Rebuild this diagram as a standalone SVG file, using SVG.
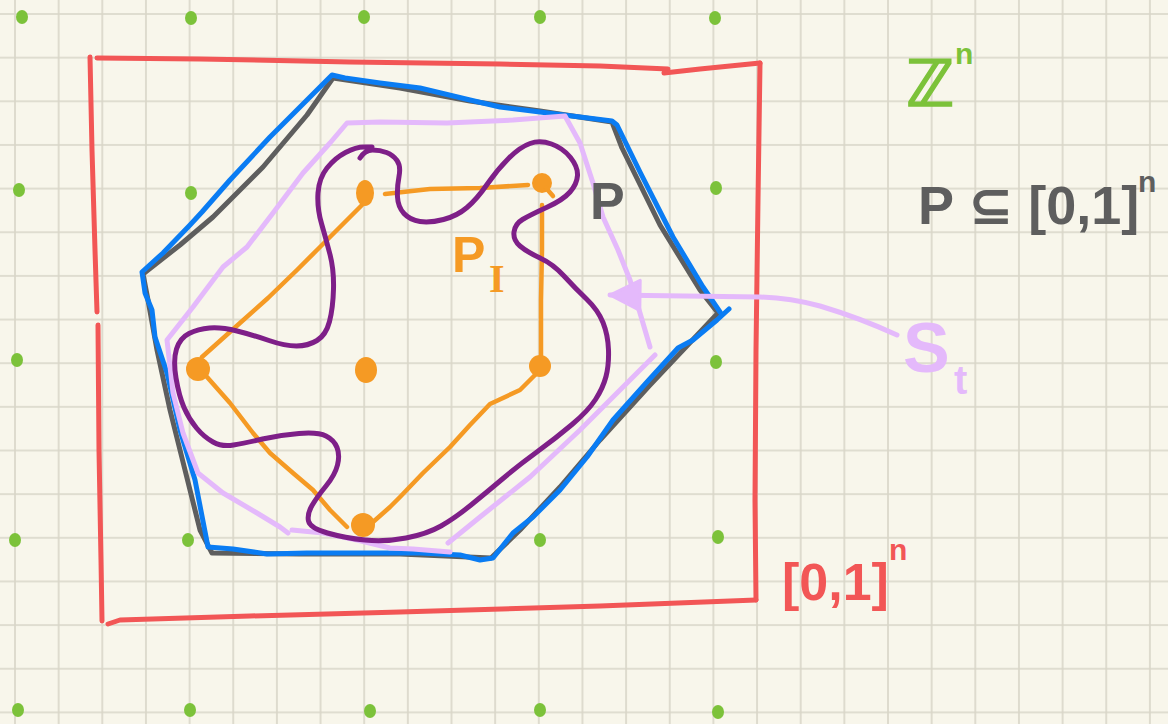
<svg xmlns="http://www.w3.org/2000/svg" width="1168" height="724" viewBox="0 0 1168 724">
<style>
.ln{fill:none;stroke-linecap:round;stroke-linejoin:round}
.red{stroke:#f25656;stroke-width:5}
.gray{stroke:#5e5e5e;stroke-width:5}
.blue{stroke:#0a7cf3;stroke-width:5}
.lilac{stroke:#e4b9fb;stroke-width:5}
.orange{stroke:#f59a24;stroke-width:4.5}
.purple{stroke:#7e1f88;stroke-width:5}
.dot{fill:#7cc23a}
.od{fill:#f59a24}
.t{font-family:"Liberation Sans","DejaVu Sans",sans-serif;font-weight:bold}
</style>
<defs>
<pattern id="gridp" x="-6.825" y="-7.825" width="43.65" height="43.65" patternUnits="userSpaceOnUse">
<path d="M21.825,0 V43.65 M0,21.825 H43.65" stroke="#d8d5c8" stroke-width="1.6" fill="none"/>
</pattern>
<marker id="ah" viewBox="0 0 34 34" refX="32" refY="17" markerWidth="34" markerHeight="34" markerUnits="userSpaceOnUse" orient="auto">
<path d="M2,2 L32,17 L2,32 Z" fill="#e4b9fb" stroke="#e4b9fb" stroke-width="3" stroke-linejoin="round"/>
</marker>
</defs>
<rect width="1168" height="724" fill="#f8f6eb"/>
<rect id="grid" width="1168" height="724" fill="url(#gridp)"/>

<g id="lattice-points">
<ellipse class="dot" cx="22" cy="17" rx="6" ry="7"/>
<ellipse class="dot" cx="191" cy="18" rx="6" ry="7"/>
<ellipse class="dot" cx="364" cy="17" rx="6" ry="7"/>
<ellipse class="dot" cx="540" cy="17" rx="6" ry="7"/>
<ellipse class="dot" cx="715" cy="18" rx="6" ry="7"/>
<ellipse class="dot" cx="19" cy="190" rx="6" ry="7"/>
<ellipse class="dot" cx="191" cy="193" rx="6" ry="7"/>
<ellipse class="dot" cx="716" cy="188" rx="6" ry="7"/>
<ellipse class="dot" cx="17" cy="360" rx="6" ry="7"/>
<ellipse class="dot" cx="716" cy="362" rx="6" ry="7"/>
<ellipse class="dot" cx="15" cy="540" rx="6" ry="7"/>
<ellipse class="dot" cx="188" cy="540" rx="6" ry="7"/>
<ellipse class="dot" cx="540" cy="540" rx="6" ry="7"/>
<ellipse class="dot" cx="718" cy="537" rx="6" ry="7"/>
<ellipse class="dot" cx="18" cy="710" rx="6" ry="7"/>
<ellipse class="dot" cx="190" cy="710" rx="6" ry="7"/>
<ellipse class="dot" cx="370" cy="711" rx="6" ry="7"/>
<ellipse class="dot" cx="540" cy="710" rx="6" ry="7"/>
<ellipse class="dot" cx="718" cy="712" rx="6" ry="7"/>
</g>

<g id="unit-cube">
<path class="ln red" d="M90,57 L92,150 L95,250 L97,312"/>
<path class="ln red" d="M98,325 L99,450 L101,560 L102,621"/>
<path class="ln red" d="M97,58 L200,59 L350,62 L500,64 L600,66 L668,69"/>
<path class="ln red" d="M664,73 L700,69 L760,63"/>
<path class="ln red" d="M760,63 L758,200 L756,350 L755,500 L756,600"/>
<path class="ln red" d="M756,600 L600,606 L400,612 L250,616 L120,620 L108,624"/>
</g>

<g id="polytope-P">
<path class="ln gray" d="M143,274 L180,245 L213,217 L263,167 L307,115 L333,78 L400,88 L470,101 L540,111 L612,122 L622,148 L660,225 L700,290 L718,313 L650,385 L600,440 L560,487 L520,530 L491,558 L400,554 L300,554 L212,553 L200,530 L185,470 L170,410 L157,350 L148,300 Z"/>
</g>

<g id="polytope-blue">
<path class="ln blue" d="M729,309 L717,320 L693,340 L678,348 L647,382 L613,420 L587,457 L560,490 L533,517 L513,533 L493,558 L480,560 L460,555 L420,553 L390,553 L307,553 L267,554 L233,549 L208,547 L195,480 L180,430 L167,373 L155,337 L152,310 L145,293 L142,272 L163,253 L190,225 L202,212 L230,180 L270,137 L310,97 L332,75 L345,78 L380,83 L420,88 L470,100 L500,107 L540,112 L580,117 L612,121 L617,125 L640,172 L673,237 L703,287 L720,312"/>
</g>

<g id="S_t">
<path class="ln lilac" d="M650,347 L640,313 L630,280 L618,250 L603,217 L593,183 L580,143 L565,116 L513,120 L447,123 L380,122 L347,123 L330,143 L303,173 L273,213 L247,247 L223,267 L193,307 L167,340 L173,393 L183,433 L198,473 L223,493 L257,513 L280,527 L288,533"/>
<path class="ln lilac" d="M292,530 L323,533 L357,540 L390,548 L413,549 L450,552"/>
<path class="ln lilac" d="M448,543 L480,517 L530,477 L580,430 L620,390 L655,355"/>
</g>

<g id="P_I">
<path class="ln orange" d="M362,205 L337,230 L317,250 L297,270 L268,298 L240,323 L202,357"/>
<path class="ln orange" d="M207,377 L230,403 L253,433 L270,453 L293,473 L313,490 L330,510 L347,527"/>
<path class="ln orange" d="M373,522 L390,507 L400,497 L423,473 L450,447 L470,425 L490,404 L520,390 L537,373"/>
<path class="ln orange" d="M541,358 L541,300 L542,250 L542,205"/>
<path class="ln orange" d="M385,194 L430,189 L480,188 L528,185"/>
<ellipse class="od" cx="365" cy="193" rx="9" ry="13"/>
<circle class="od" cx="542" cy="183" r="10"/>
<path class="ln orange" d="M546,188 L553,196"/>
<circle class="od" cx="198" cy="369" r="12"/>
<ellipse class="od" cx="366" cy="370" rx="11" ry="13"/>
<circle class="od" cx="540" cy="366" r="11"/>
<circle class="od" cx="363" cy="525" r="12"/>
</g>

<g id="curve">
<path class="ln purple" d="M360,158 Q365,150 372.5,150 Q380,150 386.5,152.5 Q393,155 397,160.5 Q401,166 399,176.5 Q397,187 397.5,197 Q398,207 404,213.5 Q410,220 420,221.5 Q430,223 443.5,219.5 Q457,216 467,207.5 Q477,199 487,184.5 Q497,170 508.5,158.5 Q520,147 530,143.5 Q540,140 551.5,144 Q563,148 570.5,157.5 Q578,167 577.5,175.5 Q577,184 570,192 Q563,200 546.5,207.5 Q530,215 522.5,219.5 Q515,224 514,232 Q513,240 520,246 Q527,252 540,258 Q553,264 564,276 Q575,288 586.5,299 Q598,310 603,322.5 Q608,335 608.5,350 Q609,365 606,376.5 Q603,388 595.5,399.5 Q588,411 572,424.5 Q556,438 537.5,451.5 Q519,465 503,478.5 Q487,492 471,505 Q455,518 441,526 Q427,534 406,538 Q385,542 365,540 Q345,538 327.5,533 Q310,528 308.5,521 Q307,514 312,505.5 Q317,497 326,486 Q335,475 337.5,465 Q340,455 337,447.5 Q334,440 326,436 Q318,432 299,433.5 Q280,435 262.5,439 Q245,443 233.5,445 Q222,447 213,442 Q204,437 196.5,428 Q189,419 184,407.5 Q179,396 176,378 Q173,360 176.5,349 Q180,338 189,333.5 Q198,329 209.5,328 Q221,327 237,331 Q253,335 269,340.5 Q285,346 296.5,346 Q308,346 317,340.5 Q326,335 329.5,321.5 Q333,308 333.5,289 Q334,270 330,254.5 Q326,239 321.5,223.5 Q317,208 318,193 Q319,178 327,168 Q335,158 345.5,152.5 Q356,147 364,147 L372,147"/>
</g>

<g id="connectors">
<path class="ln lilac" d="M897,335 Q860,318 820,306 Q790,298 760,297 L610,295" marker-end="url(#ah)"/>
</g>

<g id="labels">
<text x="906" y="106" font-size="64" fill="#7cc23a" stroke="#7cc23a" stroke-width="1.5" font-family="DejaVu Sans, sans-serif" font-weight="bold">ℤ</text>
<text class="t" x="955" y="64" font-size="30" fill="#7cc23a">n</text>
<text class="t" x="918" y="224" font-size="54" fill="#5e5e5e">P ⊆ [0,1]</text>
<text class="t" x="1138" y="192" font-size="30" fill="#5e5e5e">n</text>
<text class="t" x="782" y="600" font-size="52" fill="#f25656">[0,1]</text>
<text class="t" x="889" y="560" font-size="30" fill="#f25656">n</text>
<text class="t" x="590" y="219" font-size="52" fill="#5e5e5e">P</text>
<text class="t" x="452" y="272" font-size="50" fill="#f59a24">P</text>
<text x="489" y="292" font-size="40" fill="#f59a24" font-family="Liberation Serif, serif" font-weight="bold">I</text>
<text class="t" x="903" y="372" font-size="70" fill="#e4b9fb">S</text>
<text class="t" x="954" y="394" font-size="40" fill="#e4b9fb">t</text>
</g>
</svg>
